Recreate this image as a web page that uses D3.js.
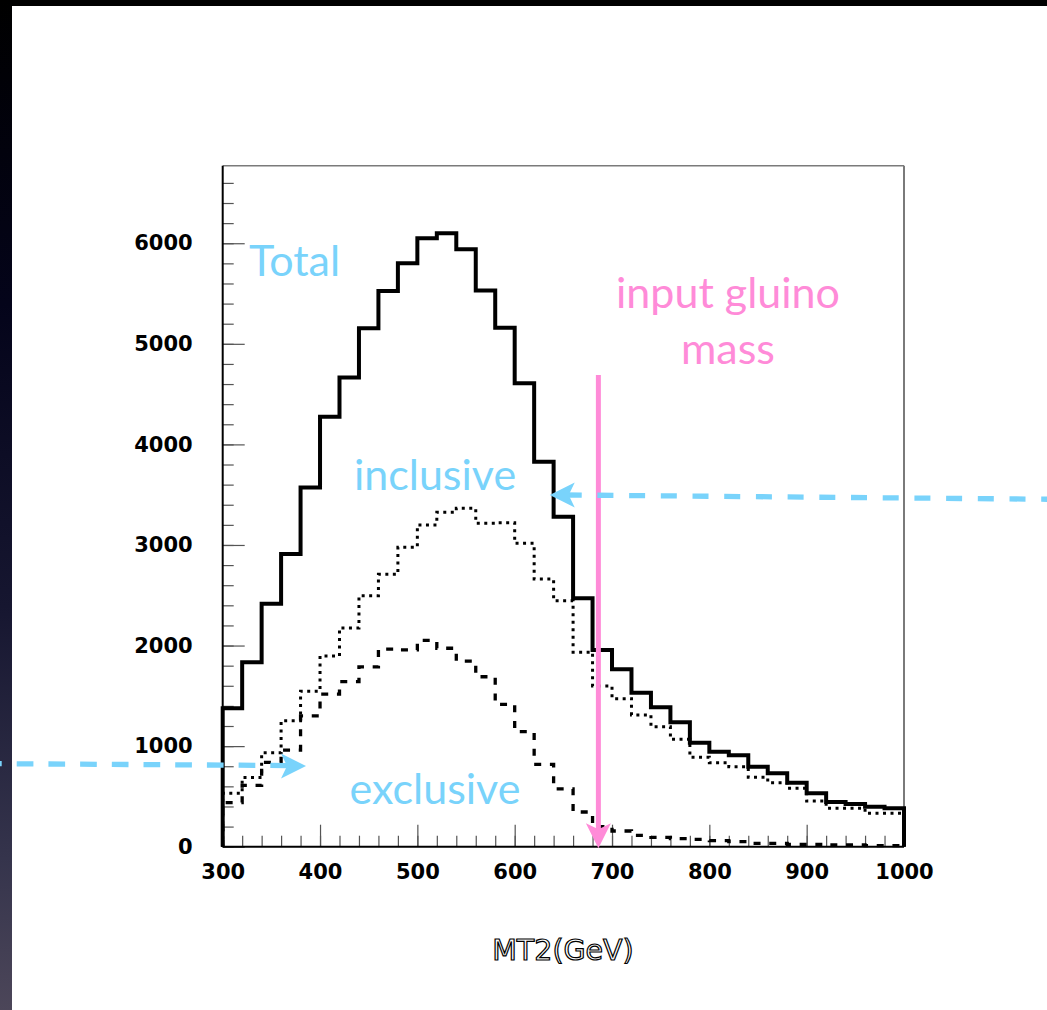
<!DOCTYPE html>
<html>
<head>
<meta charset="utf-8">
<script src="https://cdn.jsdelivr.net/npm/d3@7"></script>
<style>
  html, body { margin: 0; padding: 0; background: #fff; overflow: hidden; }
  svg { display: block; }
  .tick text { font-family: 'DejaVu Sans'; font-size: 21px; font-weight: bold; fill: #000; }
  .tick line { stroke: #555; stroke-width: 1.2px; }
  .note { font-family: Lato; font-size: 43px; }
</style>
</head>
<body>
<svg width="1047" height="1010"></svg>
<script>
// bin edges in GeV (20 GeV bins)
const binEdges = [300, 320, 340, 360, 380, 400, 420, 440, 460, 480, 500, 520, 540, 560, 580, 600, 620, 640,
  660, 680, 700, 720, 740, 760, 780, 800, 820, 840, 860, 880, 900, 920, 940, 960, 980, 1000];

// entries per bin
const totalCounts = [1376, 1834, 2415, 2910, 3572, 4276, 4664, 5154, 5525, 5801, 6049, 6099, 5940, 5529, 5161, 4608, 3828, 3281,
  2470, 1956, 1764, 1531, 1386, 1237, 1034, 945, 909, 795, 730, 636, 531, 444, 425, 398, 382];
const inclusiveCounts = [531, 688, 935, 1253, 1546, 1896, 2175, 2496, 2708, 2977, 3199, 3325, 3365, 3216, 3222, 3017, 2662, 2446,
  1934, 1598, 1472, 1310, 1193, 1068, 889, 835, 795, 690, 636, 581, 454, 382, 382, 332, 332];
const exclusiveCounts = [439, 610, 839, 961, 1300, 1518, 1641, 1787, 1965, 1956, 2052, 1973, 1846, 1690, 1416, 1144, 819, 574,
  345, 199, 156, 113, 93, 80, 73, 60, 50, 34, 34, 24, 24, 17, 17, 10, 10];

const xMajorTicks = [300, 400, 500, 600, 700, 800, 900, 1000];
const yMajorTicks = [0, 1000, 2000, 3000, 4000, 5000, 6000];
const yMinorTicks = [0, 200, 400, 600, 800, 1000, 1200, 1400, 1600, 1800, 2000, 2200, 2400, 2600, 2800, 3000, 3200,
  3400, 3600, 3800, 4000, 4200, 4400, 4600, 4800, 5000, 5200, 5400, 5600, 5800, 6000, 6200, 6400, 6600];

const xLabel = 'MT2(GeV)';
const gluinoMass = 686;

const svg = d3.select('svg');
const width = +svg.attr('width');
const height = +svg.attr('height');

const margin = { top: 165.7, left: 222.7 };
const innerWidth = 681.3;
const innerHeight = 681;

const cyan = '#79d3fb';
const pink = '#ff8bd8';

//slide background: black top edge, dark gradient strip on the left
const defs = svg.append('defs');
const grad = defs.append('linearGradient')
  .attr('id', 'leftStrip')
  .attr('x1', 0).attr('y1', 0).attr('x2', 0).attr('y2', 1);
[[0, '#000000'], [0.3, '#04041a'], [0.6, '#161630'], [0.85, '#35344c'], [1, '#4c4659']]
  .forEach(([o, c]) => grad.append('stop').attr('offset', o).attr('stop-color', c));

svg.append('rect').attr('width', width).attr('height', height).attr('fill', '#fff');
svg.append('rect').attr('width', width).attr('height', 6).attr('fill', '#000');
svg.append('rect').attr('width', 12).attr('height', height).attr('fill', 'url(#leftStrip)');

const xScale = d3.scaleLinear().domain([300, 1000]).range([0, innerWidth]);
const yScale = d3.scaleLinear().domain([0, 6771]).range([innerHeight, 0]);

const g = svg.append('g')
  .attr('transform', `translate(${margin.left},${margin.top})`);

//minor and major ticks, pointing into the frame
const xMinor = g.append('g')
  .attr('transform', `translate(0,${innerHeight})`)
  .call(d3.axisBottom(xScale).tickValues(binEdges).tickSizeInner(-11).tickSizeOuter(0));
xMinor.select('.domain').remove();
xMinor.selectAll('text').remove();

const xMajor = g.append('g')
  .attr('transform', `translate(0,${innerHeight})`)
  .call(d3.axisBottom(xScale).tickValues(xMajorTicks).tickSizeInner(-22).tickSizeOuter(0).tickPadding(17).tickFormat(d3.format('d')));
xMajor.select('.domain').remove();

const yMinor = g.append('g')
  .call(d3.axisLeft(yScale).tickValues(yMinorTicks).tickSizeInner(-11).tickSizeOuter(0));
yMinor.select('.domain').remove();
yMinor.selectAll('text').remove();

const yMajor = g.append('g')
  .call(d3.axisLeft(yScale).tickValues(yMajorTicks).tickSizeInner(-22).tickSizeOuter(0).tickPadding(30).tickFormat(d3.format('d')));
yMajor.select('.domain').remove();

// frame
g.append('line').attr('x1', 0).attr('x2', innerWidth).attr('y1', 0).attr('y2', 0)
  .attr('stroke', '#7a7a7a').attr('stroke-width', 1.5);
g.append('line').attr('x1', innerWidth).attr('x2', innerWidth).attr('y1', 0).attr('y2', innerHeight)
  .attr('stroke', '#7a7a7a').attr('stroke-width', 2);
g.append('line').attr('x1', 0).attr('x2', 0).attr('y1', 0).attr('y2', innerHeight)
  .attr('stroke', '#000').attr('stroke-width', 2);
g.append('line').attr('x1', 0).attr('x2', innerWidth).attr('y1', innerHeight).attr('y2', innerHeight)
  .attr('stroke', '#000').attr('stroke-width', 2);

//histogram outline as a step line
const histPoints = counts => [{ x: binEdges[0], y: 0 }]
  .concat(counts.map((c, i) => ({ x: binEdges[i + 1], y: c })))
  .concat([{ x: binEdges[binEdges.length - 1], y: 0 }]);

const step = d3.line()
  .x(d => xScale(d.x))
  .y(d => yScale(d.y))
  .curve(d3.curveStepBefore);

g.append('path')
  .attr('d', step(histPoints(exclusiveCounts)))
  .attr('fill', 'none').attr('stroke', '#000').attr('stroke-width', 3.3)
  .attr('stroke-dasharray', '7 8.7');

g.append('path')
  .attr('d', step(histPoints(inclusiveCounts)))
  .attr('fill', 'none').attr('stroke', '#000').attr('stroke-width', 3)
  .attr('stroke-dasharray', '3 4.5');

g.append('path')
  .attr('d', step(histPoints(totalCounts)))
  .attr('fill', 'none').attr('stroke', '#000').attr('stroke-width', 4)
  .attr('stroke-linejoin', 'miter');

// axis title, outlined lettering
svg.append('text')
  .attr('x', 563).attr('y', 960)
  .attr('text-anchor', 'middle')
  .attr('font-family', 'DejaVu Sans').attr('font-size', 28.5)
  .attr('fill', '#fff').attr('stroke', '#000').attr('stroke-width', 1.2)
  .text(xLabel);

//arrow head with a notched back, pointing along angle (deg)
const arrowHead = (parent, x, y, angle, color) => {
  parent.append('path')
    .attr('d', 'M0,0 L-25,-12.5 L-19,0 L-25,12.5 Z')
    .attr('transform', `translate(${x},${y}) rotate(${angle})`)
    .attr('fill', color);
};

// input gluino mass marker
const gx = xScale(gluinoMass);
g.append('line')
  .attr('x1', gx).attr('x2', gx)
  .attr('y1', yScale(4690)).attr('y2', yScale(0) - 14)
  .attr('stroke', pink).attr('stroke-width', 5);
arrowHead(g, gx, yScale(0) + 1.5, 90, pink);

// dashed cyan arrows
const inclTip = { x: xScale(636), y: yScale(3497) };
svg.append('line')
  .attr('x1', margin.left + inclTip.x + 16).attr('y1', margin.top + inclTip.y)
  .attr('x2', width + 5).attr('y2', margin.top + inclTip.y + 4.3)
  .attr('stroke', cyan).attr('stroke-width', 5.3)
  .attr('stroke-dasharray', '16 15.7');
arrowHead(svg, margin.left + inclTip.x, margin.top + inclTip.y, 180, cyan);

const exclTip = { x: xScale(385.6), y: yScale(802) };
svg.append('line')
  .attr('x1', margin.left + exclTip.x - 19).attr('y1', margin.top + exclTip.y - 0.5)
  .attr('x2', -20).attr('y2', margin.top + exclTip.y - 2.5)
  .attr('stroke', cyan).attr('stroke-width', 5.3)
  .attr('stroke-dasharray', '16.7 15');
arrowHead(svg, margin.left + exclTip.x, margin.top + exclTip.y, 0, cyan);

// labels
svg.append('text').attr('class', 'note').attr('fill', cyan)
  .attr('x', 249).attr('y', 276).attr('font-size', 44).text('Total');
svg.append('text').attr('class', 'note').attr('fill', cyan)
  .attr('x', 435).attr('y', 490).attr('text-anchor', 'middle').text('inclusive');
svg.append('text').attr('class', 'note').attr('fill', cyan)
  .attr('x', 435).attr('y', 804).attr('text-anchor', 'middle').text('exclusive');
svg.append('text').attr('class', 'note').attr('fill', pink)
  .attr('x', 728).attr('y', 308).attr('text-anchor', 'middle').text('input gluino');
svg.append('text').attr('class', 'note').attr('fill', pink)
  .attr('x', 728).attr('y', 364).attr('text-anchor', 'middle').text('mass');
</script>
</body>
</html>
